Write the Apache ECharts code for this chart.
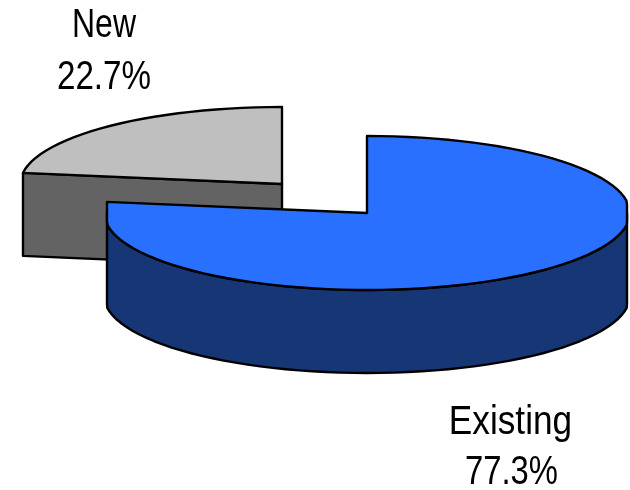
<!DOCTYPE html>
<html>
<head>
<meta charset="utf-8">
<style>html,body{margin:0;padding:0;background:#fff}#c{width:630px;height:490px}</style>
<script src="https://cdn.jsdelivr.net/npm/echarts@6/dist/echarts.min.js"></script>
</head>
<body>
<div id="c"></div>
<script>
const categories = ['New', 'Existing'];
const shares = [22.7, 77.3];

// Drawing layout, one entry per slice (the chart is a tilted, exploded pie)
const layout = [
  {cx: 282, cy: 184, rx: 259, top: '#BFBFBF', side: '#636363', nameX: 104, pctX: 104, nameY: 26, pctY: 78, nameScale: 0.8, pctScale: 0.83},
  {cx: 367, cy: 213, rx: 260, top: '#2970FF', side: '#163675', nameX: 510.5, pctX: 511.5, nameY: 423, pctY: 473, nameScale: 0.88, pctScale: 0.82}
];
const RY = 77, DEPTH = 83, STEP = 3;
const FONT = '40px "Liberation Sans", sans-serif';
const EDGE = {stroke: '#000', lineWidth: 2.4, lineJoin: 'round'};

const total = shares.reduce((a, b) => a + b, 0);
// Slice angles run clockwise; Existing starts at 12 o'clock, New fills the rest.
const spans = {};
let start = 0;
[1, 0].forEach(i => {
  const end = start + shares[i] / total * 2 * Math.PI;
  spans[i] = [start, end];
  start = end;
});

function rim(l, t) {
  const s = Math.sin(t);
  const sx = Math.sign(s) * Math.min(1, Math.abs(s) * 1.011);
  return [l.cx + l.rx * sx, l.cy - RY * Math.cos(t)];
}
function arc(l, a, b) {
  const n = Math.max(2, Math.ceil(Math.abs(b - a) / (STEP * Math.PI / 180)));
  const pts = [];
  for (let k = 0; k <= n; k++) pts.push(rim(l, a + (b - a) * k / n));
  return pts;
}
const down = p => [p[0], p[1] + DEPTH];

function renderItem(params, api) {
  const i = params.dataIndex;
  const l = layout[i];
  const [a, b] = spans[i];
  const kids = [];
  const poly = (points, fill) => kids.push({
    type: 'polygon', shape: {points}, style: Object.assign({fill}, EDGE)
  });
  const centre = [l.cx, l.cy];

  // Visible walls
  if (i === 0) {
    const tip = rim(l, a);
    poly([tip, centre, down(centre), down(tip)], l.side);
  } else {
    const front = arc(l, Math.PI / 2, 3 * Math.PI / 2);
    poly(front.concat(front.slice().reverse().map(down)), l.side);
  }
  // Top face
  poly([centre].concat(arc(l, a, b)), l.top);

  // Labels
  const txt = (text, x, y, scaleX) => kids.push({
    type: 'text', x, y, scaleX,
    style: {text, font: FONT, fill: '#000', align: 'center', verticalAlign: 'middle'}
  });
  txt(categories[i], l.nameX, l.nameY, l.nameScale);
  txt(shares[i].toFixed(1) + '%', l.pctX, l.pctY, l.pctScale);
  return {type: 'group', children: kids};
}

const chart = echarts.init(document.getElementById('c'), null, {renderer: 'canvas'});
chart.setOption({
  animation: false,
  backgroundColor: '#fff',
  series: [{
    type: 'custom',
    coordinateSystem: 'none',
    renderItem,
    data: categories.map((c, i) => ({name: c, value: [i, shares[i]]}))
  }]
});
</script>
</body>
</html>
